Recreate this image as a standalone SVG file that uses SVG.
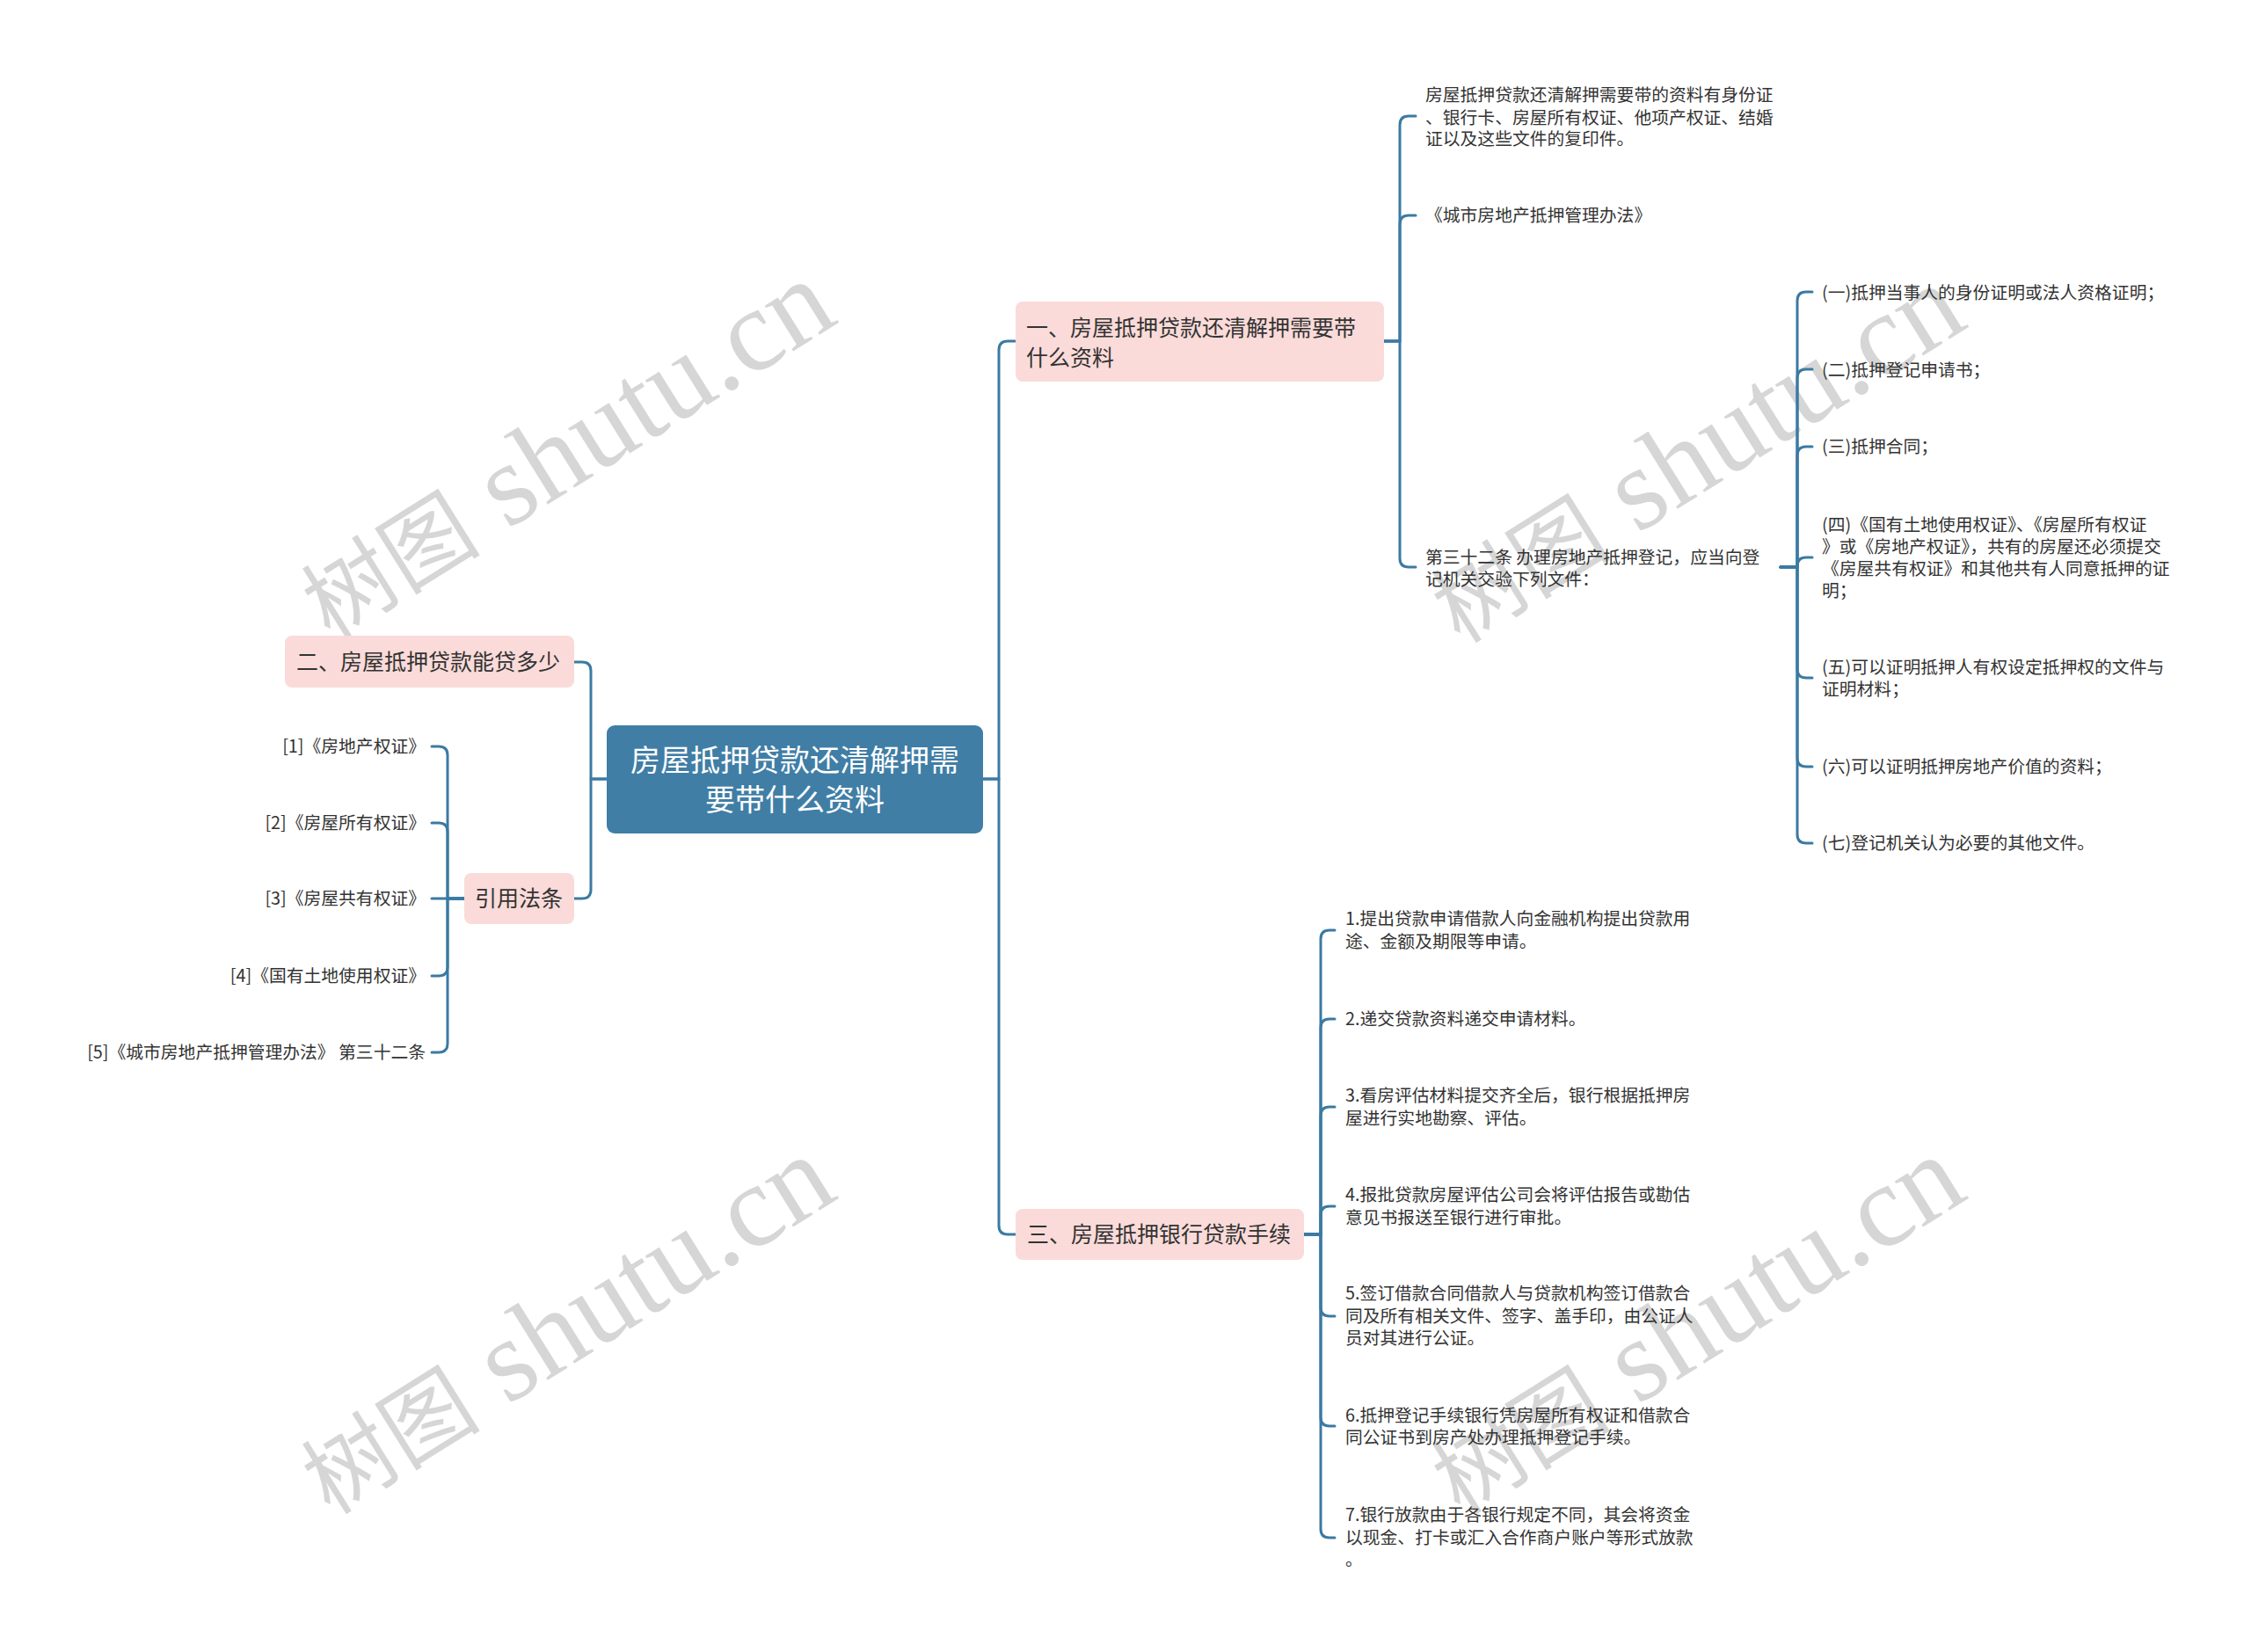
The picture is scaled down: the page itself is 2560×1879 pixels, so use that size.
<svg xmlns="http://www.w3.org/2000/svg" width="2560" height="1879" viewBox="0 0 2560 1879">
<style>
.bg{fill:#ffffff}
.wm{fill:#d6d6d6;font-family:"Liberation Serif","Noto Sans CJK SC",serif;font-size:133px}
.wm .cj{font-family:"Noto Sans CJK SC",serif;font-size:102px}
.root{fill:#407ea6}
.pink{fill:#fadbd9}
.rt{fill:#ffffff;font-family:"Noto Sans CJK SC","Noto Sans",sans-serif;font-size:34px}
.bt{fill:#333333;font-family:"Noto Sans CJK SC","Noto Sans",sans-serif;font-size:25px}
.lt{fill:#333333;font-family:"Noto Sans CJK SC","Noto Sans",sans-serif;font-size:19.8px}
.con path{fill:none;stroke:#3b7aa2;stroke-width:3;stroke-linejoin:round;stroke-linecap:round}
</style>
<rect class="bg" x="0" y="0" width="2560" height="1879"/>
<g id="watermarks">
<text class="wm" x="645" y="553" text-anchor="middle" transform="rotate(-32 645 514)"><tspan class="cj">树图</tspan> shutu.cn</text>
<text class="wm" x="645" y="1549" text-anchor="middle" transform="rotate(-32 645 1510)"><tspan class="cj">树图</tspan> shutu.cn</text>
<text class="wm" x="1930" y="558" text-anchor="middle" transform="rotate(-32 1930 519)"><tspan class="cj">树图</tspan> shutu.cn</text>
<text class="wm" x="1930" y="1549" text-anchor="middle" transform="rotate(-32 1930 1510)"><tspan class="cj">树图</tspan> shutu.cn</text>
</g>
<g id="connectors" class="con">
<path d="M1118,886 H1136 V398 Q1136,388 1146,388 H1155"/>
<path d="M1118,886 H1136 V1394 Q1136,1404 1146,1404 H1155"/>
<path d="M690,886 H672 V763 Q672,753 662,753 H653"/>
<path d="M690,886 H672 V1012 Q672,1022 662,1022 H653"/>
<path d="M1574,388 H1592 V142 Q1592,132 1602,132 H1610"/>
<path d="M1574,388 H1592 V255 Q1592,245 1602,245 H1610"/>
<path d="M1574,388 H1592 V635 Q1592,645 1602,645 H1610"/>
<path d="M2025,645 H2044 V342 Q2044,332 2054,332 H2061"/>
<path d="M2025,645 H2044 V430 Q2044,420 2054,420 H2061"/>
<path d="M2025,645 H2044 V518 Q2044,508 2054,508 H2061"/>
<path d="M2025,645 H2044 V644 Q2044,634 2054,634 H2061"/>
<path d="M2025,645 H2044 V761 Q2044,771 2054,771 H2061"/>
<path d="M2025,645 H2044 V862 Q2044,872 2054,872 H2061"/>
<path d="M2025,645 H2044 V949 Q2044,959 2054,959 H2061"/>
<path d="M1483,1404 H1502 V1068 Q1502,1058 1512,1058 H1518"/>
<path d="M1483,1404 H1502 V1169 Q1502,1159 1512,1159 H1518"/>
<path d="M1483,1404 H1502 V1269 Q1502,1259 1512,1259 H1518"/>
<path d="M1483,1404 H1502 V1382 Q1502,1372 1512,1372 H1518"/>
<path d="M1483,1404 H1502 V1487 Q1502,1497 1512,1497 H1518"/>
<path d="M1483,1404 H1502 V1612 Q1502,1622 1512,1622 H1518"/>
<path d="M1483,1404 H1502 V1739 Q1502,1749 1512,1749 H1518"/>
<path d="M528,1022 H509 V859 Q509,849 499,849 H491"/>
<path d="M528,1022 H509 V946 Q509,936 499,936 H491"/>
<path d="M528,1022 H491"/>
<path d="M528,1022 H509 V1100 Q509,1110 499,1110 H491"/>
<path d="M528,1022 H509 V1187 Q509,1197 499,1197 H491"/>
</g>
<g id="root">
<rect class="root" x="690" y="825" width="428" height="123" rx="9"/>
<text class="rt" x="904" y="877" text-anchor="middle">房屋抵押贷款还清解押需</text>
<text class="rt" x="904" y="922" text-anchor="middle">要带什么资料</text>
</g>
<g id="b1">
<rect class="pink" x="1155" y="343" width="419" height="91" rx="8"/>
<text class="bt" x="1167" y="382">一、房屋抵押贷款还清解押需要带</text>
<text class="bt" x="1167" y="416">什么资料</text>
</g>
<g id="b2">
<rect class="pink" x="324" y="723" width="329" height="59" rx="8"/>
<text class="bt" x="337" y="762">二、房屋抵押贷款能贷多少</text>
</g>
<g id="b4">
<rect class="pink" x="528" y="993" width="125" height="58" rx="8"/>
<text class="bt" x="540" y="1031">引用法条</text>
</g>
<g id="b3">
<rect class="pink" x="1155" y="1375" width="328" height="58" rx="8"/>
<text class="bt" x="1168" y="1413">三、房屋抵押银行贷款手续</text>
</g>
<g id="b1-1">
<text class="lt" x="1621" y="115">房屋抵押贷款还清解押需要带的资料有身份证</text>
<text class="lt" x="1621" y="141">、银行卡、房屋所有权证、他项产权证、结婚</text>
<text class="lt" x="1621" y="165">证以及这些文件的复印件。</text>
</g>
<g id="b1-2">
<text class="lt" x="1621" y="252">《城市房地产抵押管理办法》</text>
</g>
<g id="b1-3">
<text class="lt" x="1621" y="641">第三十二条 办理房地产抵押登记，应当向登</text>
<text class="lt" x="1621" y="666">记机关交验下列文件：</text>
</g>
<g id="b1-3-1"><text class="lt" x="2072" y="340">(一)抵押当事人的身份证明或法人资格证明；</text></g>
<g id="b1-3-2"><text class="lt" x="2072" y="428">(二)抵押登记申请书；</text></g>
<g id="b1-3-3"><text class="lt" x="2072" y="515">(三)抵押合同；</text></g>
<g id="b1-3-4">
<text class="lt" x="2072" y="604">(四)《国有土地使用权证》、《房屋所有权证</text>
<text class="lt" x="2072" y="629">》或《房地产权证》，共有的房屋还必须提交</text>
<text class="lt" x="2072" y="654">《房屋共有权证》和其他共有人同意抵押的证</text>
<text class="lt" x="2072" y="679">明；</text>
</g>
<g id="b1-3-5">
<text class="lt" x="2072" y="766">(五)可以证明抵押人有权设定抵押权的文件与</text>
<text class="lt" x="2072" y="791">证明材料；</text>
</g>
<g id="b1-3-6"><text class="lt" x="2072" y="879">(六)可以证明抵押房地产价值的资料；</text></g>
<g id="b1-3-7"><text class="lt" x="2072" y="966">(七)登记机关认为必要的其他文件。</text></g>
<g id="b3-1">
<text class="lt" x="1530" y="1052">1.提出贷款申请借款人向金融机构提出贷款用</text>
<text class="lt" x="1530" y="1078">途、金额及期限等申请。</text>
</g>
<g id="b3-2"><text class="lt" x="1530" y="1166">2.递交贷款资料递交申请材料。</text></g>
<g id="b3-3">
<text class="lt" x="1530" y="1253">3.看房评估材料提交齐全后，银行根据抵押房</text>
<text class="lt" x="1530" y="1279">屋进行实地勘察、评估。</text>
</g>
<g id="b3-4">
<text class="lt" x="1530" y="1366">4.报批贷款房屋评估公司会将评估报告或勘估</text>
<text class="lt" x="1530" y="1392">意见书报送至银行进行审批。</text>
</g>
<g id="b3-5">
<text class="lt" x="1530" y="1478">5.签订借款合同借款人与贷款机构签订借款合</text>
<text class="lt" x="1530" y="1504">同及所有相关文件、签字、盖手印，由公证人</text>
<text class="lt" x="1530" y="1529">员对其进行公证。</text>
</g>
<g id="b3-6">
<text class="lt" x="1530" y="1617">6.抵押登记手续银行凭房屋所有权证和借款合</text>
<text class="lt" x="1530" y="1642">同公证书到房产处办理抵押登记手续。</text>
</g>
<g id="b3-7">
<text class="lt" x="1530" y="1730">7.银行放款由于各银行规定不同，其会将资金</text>
<text class="lt" x="1530" y="1756">以现金、打卡或汇入合作商户账户等形式放款</text>
<text class="lt" x="1530" y="1781">。</text>
</g>
<g id="b4-1"><text class="lt" x="484" y="856" text-anchor="end">[1]《房地产权证》</text></g>
<g id="b4-2"><text class="lt" x="484" y="943" text-anchor="end">[2]《房屋所有权证》</text></g>
<g id="b4-3"><text class="lt" x="484" y="1029" text-anchor="end">[3]《房屋共有权证》</text></g>
<g id="b4-4"><text class="lt" x="484" y="1117" text-anchor="end">[4]《国有土地使用权证》</text></g>
<g id="b4-5"><text class="lt" x="484" y="1204" text-anchor="end">[5]《城市房地产抵押管理办法》 第三十二条</text></g>
</svg>
